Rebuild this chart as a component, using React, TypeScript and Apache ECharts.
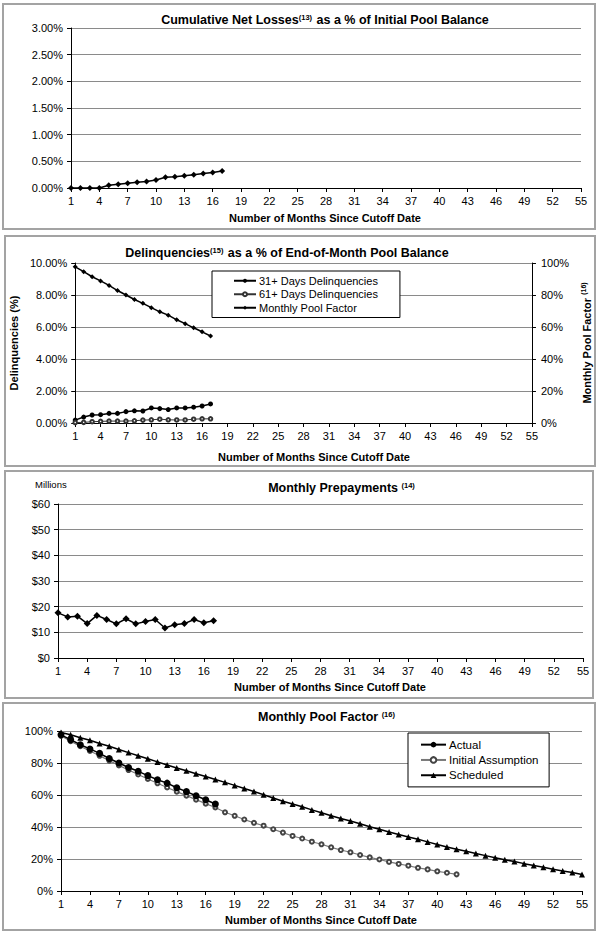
import React, { useEffect, useRef } from "react";
import * as echarts from "echarts";

const months = [
  "1","2","3","4","5","6","7","8","9","10","11","12","13","14","15","16","17","18","19","20",
  "21","22","23","24","25","26","27","28","29","30","31","32","33","34","35","36","37","38","39","40",
  "41","42","43","44","45","46","47","48","49","50","51","52","53","54","55",
];

// Panel 1: cumulative net losses (% of initial pool balance)
const netLosses = [0, 0, 0, 0, 0.05, 0.07, 0.09, 0.11, 0.12, 0.15, 0.2, 0.21, 0.23, 0.25, 0.27, 0.29, 0.32];

// Panel 2: delinquencies (% of end-of-month pool balance)
const delinq31 = [0.18, 0.37, 0.5, 0.52, 0.6, 0.6, 0.71, 0.76, 0.75, 0.94, 0.9, 0.84, 0.94, 0.94, 0.99, 1.06, 1.19];
const delinq61 = [0.03, 0.04, 0.08, 0.1, 0.12, 0.12, 0.12, 0.14, 0.18, 0.2, 0.24, 0.2, 0.19, 0.19, 0.24, 0.26, 0.26];

// Monthly pool factor, actual (%)
const poolFactorActual = [97.6, 94.6, 91.4, 88.8, 86, 82.8, 80, 77.2, 74.8, 72.1, 69.5, 67.4, 64.5, 62.1, 59.5, 57, 54.4];

// Panel 3: monthly prepayments ($ millions)
const prepayments = [17.6, 16.0, 16.3, 13.4, 16.6, 15.0, 13.3, 15.3, 13.3, 14.2, 15.0, 11.7, 13.0, 13.4, 15.0, 13.7, 14.5];

// Panel 4: pool factor initial assumption and scheduled (%)
const initialAssumption = [
  97, 93.6, 90.5, 87.5, 84.5, 81.5, 78.5, 75.6, 72.8, 70, 67.3, 64.7, 62.1, 59.6, 57.1, 54.6, 52.2, 49.2, 47, 44.7,
  42.6, 40.8, 38.6, 36.5, 34.4, 32.8, 30.8, 29.2, 27.3, 25.6, 24.2, 22.5, 21.0, 19.7, 18.2, 16.9, 15.8, 14.5, 13.5, 12.3,
  11.4, 10.4,
];
const scheduled = [
  99, 97.7, 95.8, 94.2, 92.2, 90.5, 88.4, 86.5, 84.5, 82.6, 80.7, 78.8, 76.9, 75.1, 73.3, 71.6, 69.7, 67.9, 66, 64.1,
  62.2, 60.2, 58.1, 56.1, 54.4, 52.6, 50.7, 48.9, 47, 45.3, 43.7, 42, 40.2, 38.6, 36.9, 35.3, 33.8, 32.3, 30.7, 29.1,
  27.5, 26.1, 24.8, 23.5, 22.1, 20.8, 19.5, 18.4, 17.1, 16, 14.9, 13.6, 12.5, 11.5, 10.3,
];

const FONT = "'Liberation Sans', Arial, sans-serif";

function xAxis(gridIndex: number) {
  return {
    type: "category",
    gridIndex,
    data: months,
    boundaryGap: false,
    axisLine: { show: true, onZero: false, lineStyle: { color: "#000", width: 1 } },
    axisTick: { show: true, interval: 2, length: 4, lineStyle: { color: "#000" } },
    axisLabel: { interval: 2, margin: 7, color: "#000", fontSize: 11, fontFamily: FONT },
    splitLine: { show: false },
  };
}

function yAxis(gridIndex: number, max: number, interval: number, formatter: (v: number) => string, extra: any = {}) {
  return {
    type: "value",
    gridIndex,
    min: 0,
    max,
    interval,
    axisLine: { show: true, lineStyle: { color: "#000", width: 1 } },
    axisTick: { show: true, length: 4, lineStyle: { color: "#000" } },
    axisLabel: { margin: 8, color: "#000", fontSize: 11, fontFamily: FONT, formatter },
    splitLine: { show: true, lineStyle: { color: "#8a8a8a", width: 1 } },
    ...extra,
  };
}

function titleText(x: number, y: number, text: string) {
  return {
    type: "text",
    x,
    y,
    z: 10,
    style: {
      text,
      align: "center",
      verticalAlign: "middle",
      fontFamily: FONT,
      fontSize: 12.5,
      fontWeight: "bold",
      fill: "#000",
      rich: {
        b: { fontFamily: FONT, fontSize: 12.5, fontWeight: "bold", fill: "#000" },
        sup: { fontFamily: FONT, fontSize: 7.5, fontWeight: "bold", fill: "#000", verticalAlign: "top", padding: [0, 1, 6, 0] },
      },
    },
  };
}

function axisName(x: number, y: number) {
  return {
    type: "text",
    x,
    y,
    z: 10,
    style: {
      text: "Number of Months Since Cutoff Date",
      align: "center",
      verticalAlign: "middle",
      fontFamily: FONT,
      fontSize: 11,
      fontWeight: "bold",
      fill: "#000",
    },
  };
}

function panel(x: number, y: number, w: number, h: number) {
  return {
    type: "rect",
    z: 0,
    shape: { x, y, width: w, height: h },
    style: { fill: "none", stroke: "#a3a3a3", lineWidth: 2 },
  };
}

export default function App() {
  const ref = useRef<HTMLDivElement>(null);

  useEffect(() => {
    if (!ref.current) return;
    const chart = echarts.init(ref.current, undefined, { renderer: "svg" });

    const pct2 = (v: number) => v.toFixed(2) + "%";
    const pct0 = (v: number) => v.toFixed(0) + "%";
    const dollars = (v: number) => "$" + v.toFixed(0);

    const base = { type: "line", showSymbol: true, showAllSymbol: true };

    const option: any = {
      animation: false,
      backgroundColor: "#fff",
      textStyle: { fontFamily: FONT },
      grid: [
        { left: 71, top: 28, width: 510, height: 160 },
        { left: 72, top: 263, width: 465, height: 160 },
        { left: 58, top: 504, width: 525, height: 154 },
        { left: 61, top: 731, width: 521, height: 160 },
      ],
      xAxis: [xAxis(0), xAxis(1), xAxis(2), xAxis(3)],
      yAxis: [
        yAxis(0, 3, 0.5, pct2),
        yAxis(1, 10, 2, pct2, {
          name: "Delinquencies (%)",
          nameLocation: "middle",
          nameRotate: 90,
          nameGap: 47,
          nameTextStyle: { color: "#000", fontSize: 11, fontWeight: "bold", fontFamily: FONT },
        }),
        yAxis(1, 100, 20, pct0, {
          position: "right",
          splitLine: { show: false },
          axisLabel: { margin: 9, color: "#000", fontSize: 11, fontFamily: FONT, formatter: pct0 },
          name: "Monthly Pool Factor {sup|(16)}",
          nameLocation: "middle",
          nameRotate: 90,
          nameGap: 40,
          nameTextStyle: {
            color: "#000",
            fontSize: 11,
            fontWeight: "bold",
            fontFamily: FONT,
            rich: { sup: { fontSize: 7, fontWeight: "bold", fontFamily: FONT, color: "#000", verticalAlign: "top", padding: [0, 0, 6, 0] } },
          },
        }),
        yAxis(2, 60, 10, dollars),
        yAxis(3, 100, 20, pct0),
      ],
      legend: [
        {
          data: ["31+ Days Delinquencies", "61+ Days Delinquencies", "Monthly Pool Factor"],
          orient: "vertical",
          left: 212,
          top: 271,
          padding: [3, 22, 3, 21],
          itemGap: 0,
          itemWidth: 22,
          itemHeight: 5,
          selectedMode: false,
          backgroundColor: "#fff",
          borderColor: "#000",
          borderWidth: 1,
          textStyle: { color: "#000", fontSize: 11, fontFamily: FONT, lineHeight: 13.5, padding: [0, 0, 0, -2] },
        },
        {
          data: ["Actual", "Initial Assumption", "Scheduled"],
          orient: "vertical",
          left: 408,
          top: 733,
          padding: [4, 10, 4, 12],
          itemGap: 0,
          itemWidth: 25,
          itemHeight: 7,
          selectedMode: false,
          backgroundColor: "#fff",
          borderColor: "#000",
          borderWidth: 1,
          textStyle: { color: "#000", fontSize: 11.5, fontFamily: FONT, lineHeight: 15.3, padding: [0, 0, 0, -2] },
        },
      ],
      series: [
        {
          ...base,
          name: "Cumulative Net Losses",
          xAxisIndex: 0,
          yAxisIndex: 0,
          data: netLosses,
          symbol: "diamond",
          symbolSize: 6,
          itemStyle: { color: "#000" },
          lineStyle: { color: "#000", width: 1.5 },
        },
        {
          ...base,
          name: "31+ Days Delinquencies",
          xAxisIndex: 1,
          yAxisIndex: 1,
          data: delinq31,
          symbol: "circle",
          symbolSize: 5,
          itemStyle: { color: "#000" },
          lineStyle: { color: "#000", width: 1.5 },
        },
        {
          ...base,
          name: "61+ Days Delinquencies",
          xAxisIndex: 1,
          yAxisIndex: 1,
          data: delinq61,
          symbol: "emptyCircle",
          symbolSize: 3.5,
          itemStyle: { color: "#333", borderWidth: 0.8 },
          lineStyle: { color: "#333", width: 1 },
        },
        {
          ...base,
          name: "Monthly Pool Factor",
          xAxisIndex: 1,
          yAxisIndex: 2,
          data: poolFactorActual,
          symbol: "diamond",
          symbolSize: 5,
          itemStyle: { color: "#000" },
          lineStyle: { color: "#000", width: 1.5 },
        },
        {
          ...base,
          name: "Monthly Prepayments",
          xAxisIndex: 2,
          yAxisIndex: 3,
          data: prepayments,
          symbol: "diamond",
          symbolSize: 7,
          itemStyle: { color: "#000" },
          lineStyle: { color: "#000", width: 1.5 },
        },
        {
          ...base,
          name: "Initial Assumption",
          xAxisIndex: 3,
          yAxisIndex: 4,
          data: initialAssumption,
          symbol: "emptyCircle",
          symbolSize: 4,
          itemStyle: { color: "#444", borderWidth: 0.8 },
          lineStyle: { color: "#777", width: 1.2 },
          z: 2,
        },
        {
          ...base,
          name: "Scheduled",
          xAxisIndex: 3,
          yAxisIndex: 4,
          data: scheduled,
          symbol: "triangle",
          symbolSize: 6,
          itemStyle: { color: "#000" },
          lineStyle: { color: "#000", width: 1.5 },
          z: 3,
        },
        {
          ...base,
          name: "Actual",
          xAxisIndex: 3,
          yAxisIndex: 4,
          data: poolFactorActual,
          symbol: "circle",
          symbolSize: 7,
          itemStyle: { color: "#000" },
          lineStyle: { color: "#000", width: 1.5 },
          z: 4,
        },
      ],
      graphic: [
        panel(3, 4, 592, 225),
        panel(5, 236, 590, 230),
        panel(5, 471, 588, 227),
        panel(3, 703, 592, 227),
        titleText(325, 20, "{b|Cumulative Net Losses}{sup|(13)}{b| as a % of Initial Pool Balance}"),
        titleText(287, 253, "{b|Delinquencies}{sup|(15)}{b| as a % of End-of-Month Pool Balance}"),
        titleText(342, 488, "{b|Monthly Prepayments }{sup|(14)}"),
        titleText(327, 717, "{b|Monthly Pool Factor }{sup|(16)}"),
        axisName(325, 218),
        axisName(314, 457),
        axisName(330, 687),
        axisName(321, 920),
        {
          type: "text",
          x: 35,
          y: 484,
          z: 10,
          style: { text: "Millions", align: "left", verticalAlign: "middle", fontFamily: FONT, fontSize: 9.5, fill: "#000" },
        },
      ],
    };

    chart.setOption(option);
    return () => chart.dispose();
  }, []);

  return (
    <div
      ref={ref}
      style={{ position: "absolute", left: 0, top: 0, width: 600, height: 936, background: "#fff" }}
    />
  );
}
